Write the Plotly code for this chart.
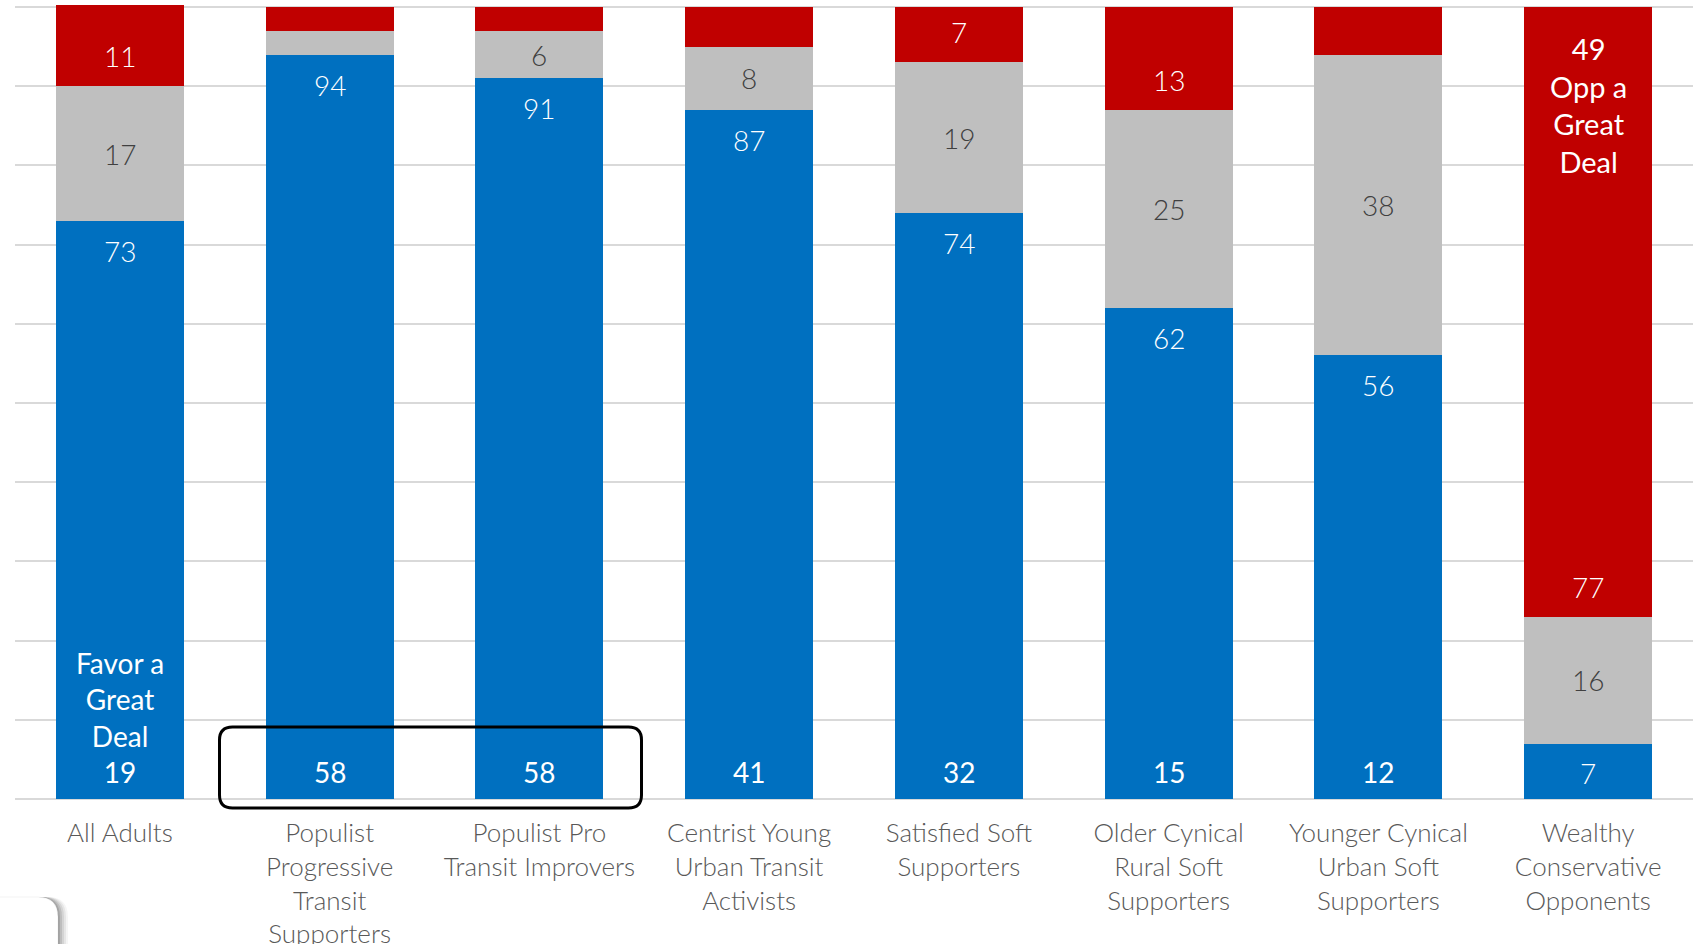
import plotly.graph_objects as go

categories = [
    "All Adults",
    "Populist<br>Progressive<br>Transit<br>Supporters",
    "Populist Pro<br>Transit Improvers",
    "Centrist Young<br>Urban Transit<br>Activists",
    "Satisfied Soft<br>Supporters",
    "Older Cynical<br>Rural Soft<br>Supporters",
    "Younger Cynical<br>Urban Soft<br>Supporters",
    "Wealthy<br>Conservative<br>Opponents",
]
favor_total = [73, 94, 91, 87, 74, 62, 56, 7]
neutral = [17, 3, 6, 8, 19, 25, 38, 16]
oppose_total = [11, 3, 3, 5, 7, 13, 6, 77]
favor_great_deal = [19, 58, 58, 41, 32, 15, 12, None]
oppose_great_deal = [None, None, None, None, None, None, None, 49]
neutral_labeled = [True, False, True, True, True, True, True, True]
oppose_labeled = [True, False, False, False, True, True, False, True]

BLUE = "#0070C0"
GRAY = "#BFBFBF"
RED = "#C00000"
FONT = "Lato"

x_idx = list(range(len(categories)))

fig = go.Figure()
fig.add_trace(go.Bar(x=x_idx, y=favor_total, marker=dict(color=BLUE, line=dict(width=0)), hoverinfo="skip"))
fig.add_trace(go.Bar(x=x_idx, y=neutral, marker=dict(color=GRAY, line=dict(width=0)), hoverinfo="skip"))
fig.add_trace(go.Bar(x=x_idx, y=oppose_total, marker=dict(color=RED, line=dict(width=0)), hoverinfo="skip"))

ann = []
light = dict(family=FONT, size=28, color="white", weight=300)
for i in x_idx:
    f, n, o = favor_total[i], neutral[i], oppose_total[i]
    if favor_great_deal[i] is not None:
        ann.append(dict(x=i, y=f, text=str(f), showarrow=False, yanchor="middle",
                        yshift=-30, font=light))
    else:
        ann.append(dict(x=i, y=f / 2, text=str(f), showarrow=False, yanchor="middle",
                        yshift=-2, font=light))
    if neutral_labeled[i]:
        ann.append(dict(x=i, y=f + n / 2, text=str(n), showarrow=False, yanchor="middle",
                        font=dict(family=FONT, size=28, color="#404040", weight=300)))
    if oppose_labeled[i]:
        ann.append(dict(x=i, y=f + n, text=str(o), showarrow=False, yanchor="middle",
                        yshift=30, font=light))
    if favor_great_deal[i] is not None:
        txt = str(favor_great_deal[i])
        if i == 0:
            txt = "Favor a<br>Great<br>Deal<br>" + txt
        ann.append(dict(x=i, y=0, text=txt, showarrow=False, yanchor="bottom",
                        yshift=8, font=dict(family=FONT, size=28, color="white")))
    if oppose_great_deal[i] is not None:
        ann.append(dict(x=i, y=f + n + o, text=str(oppose_great_deal[i]) + "<br>Opp a<br>Great<br>Deal",
                        showarrow=False, yanchor="top", yshift=-22,
                        font=dict(family=FONT, size=29, color="white")))

# highlight box around the two populist groups (pixel-sized, anchored between them)
L, R, T, B, r = -215, 207, 72, -9, 13
box_path = (f"M{L + r},{T} L{R - r},{T} Q{R},{T} {R},{T - r} L{R},{B + r} "
            f"Q{R},{B} {R - r},{B} L{L + r},{B} Q{L},{B} {L},{B + r} "
            f"L{L},{T - r} Q{L},{T} {L + r},{T} Z")
shapes = [dict(type="path", xref="x", yref="paper", xsizemode="pixel", ysizemode="pixel",
               xanchor=1.5, yanchor=0.0025, path=box_path,
               line=dict(color="black", width=3), fillcolor="rgba(0,0,0,0)", layer="above")]

# partial card in bottom-left corner with soft shadow
def card(dx, dy):
    cl, cr, ct, cb, cr_ = -40 + dx, 43 + dx, -96 + dy, -200, 20
    return (f"M{cl},{ct} L{cr - cr_},{ct} Q{cr},{ct} {cr},{ct - cr_} L{cr},{cb} "
            f"L{cl},{cb} Z")
for k, op in [(10, 0.04), (8, 0.06), (6, 0.08), (4, 0.1), (2, 0.12)]:
    shapes.append(dict(type="path", xref="paper", yref="paper", xsizemode="pixel", ysizemode="pixel",
                       xanchor=0, yanchor=0, path=card(k, 0),
                       line=dict(width=0), fillcolor=f"rgba(0,0,0,{op})", layer="above"))
shapes.append(dict(type="path", xref="paper", yref="paper", xsizemode="pixel", ysizemode="pixel",
                   xanchor=0, yanchor=0, path=card(0, 0),
                   line=dict(width=1, color="rgba(0,0,0,0.05)"), fillcolor="white", layer="above"))

fig.update_layout(
    barmode="stack",
    bargap=0.39,
    width=1696, height=944,
    margin=dict(l=15, r=3, t=5, b=143, pad=0, autoexpand=False),
    paper_bgcolor="white", plot_bgcolor="white",
    showlegend=False,
    annotations=ann,
    shapes=shapes,
    font=dict(family=FONT),
)
fig.update_xaxes(
    tickmode="array", tickvals=x_idx, ticktext=categories,
    range=[-0.5, len(categories) - 0.5],
    tickfont=dict(family=FONT, size=26, color="#595959", weight=300),
    showgrid=False, zeroline=False, showline=False, ticks="",
    ticklabelstandoff=14, automargin=False,
)
fig.update_yaxes(
    range=[-0.25, 100.25], dtick=10, tick0=0,
    showgrid=True, gridcolor="#D9D9D9", gridwidth=2,
    showticklabels=False, zeroline=False, showline=False, ticks="",
    automargin=False,
)

fig.write_html("out.html", config={"displayModeBar": False},
               post_script="document.body.style.margin='0';document.body.style.overflow='hidden';")
